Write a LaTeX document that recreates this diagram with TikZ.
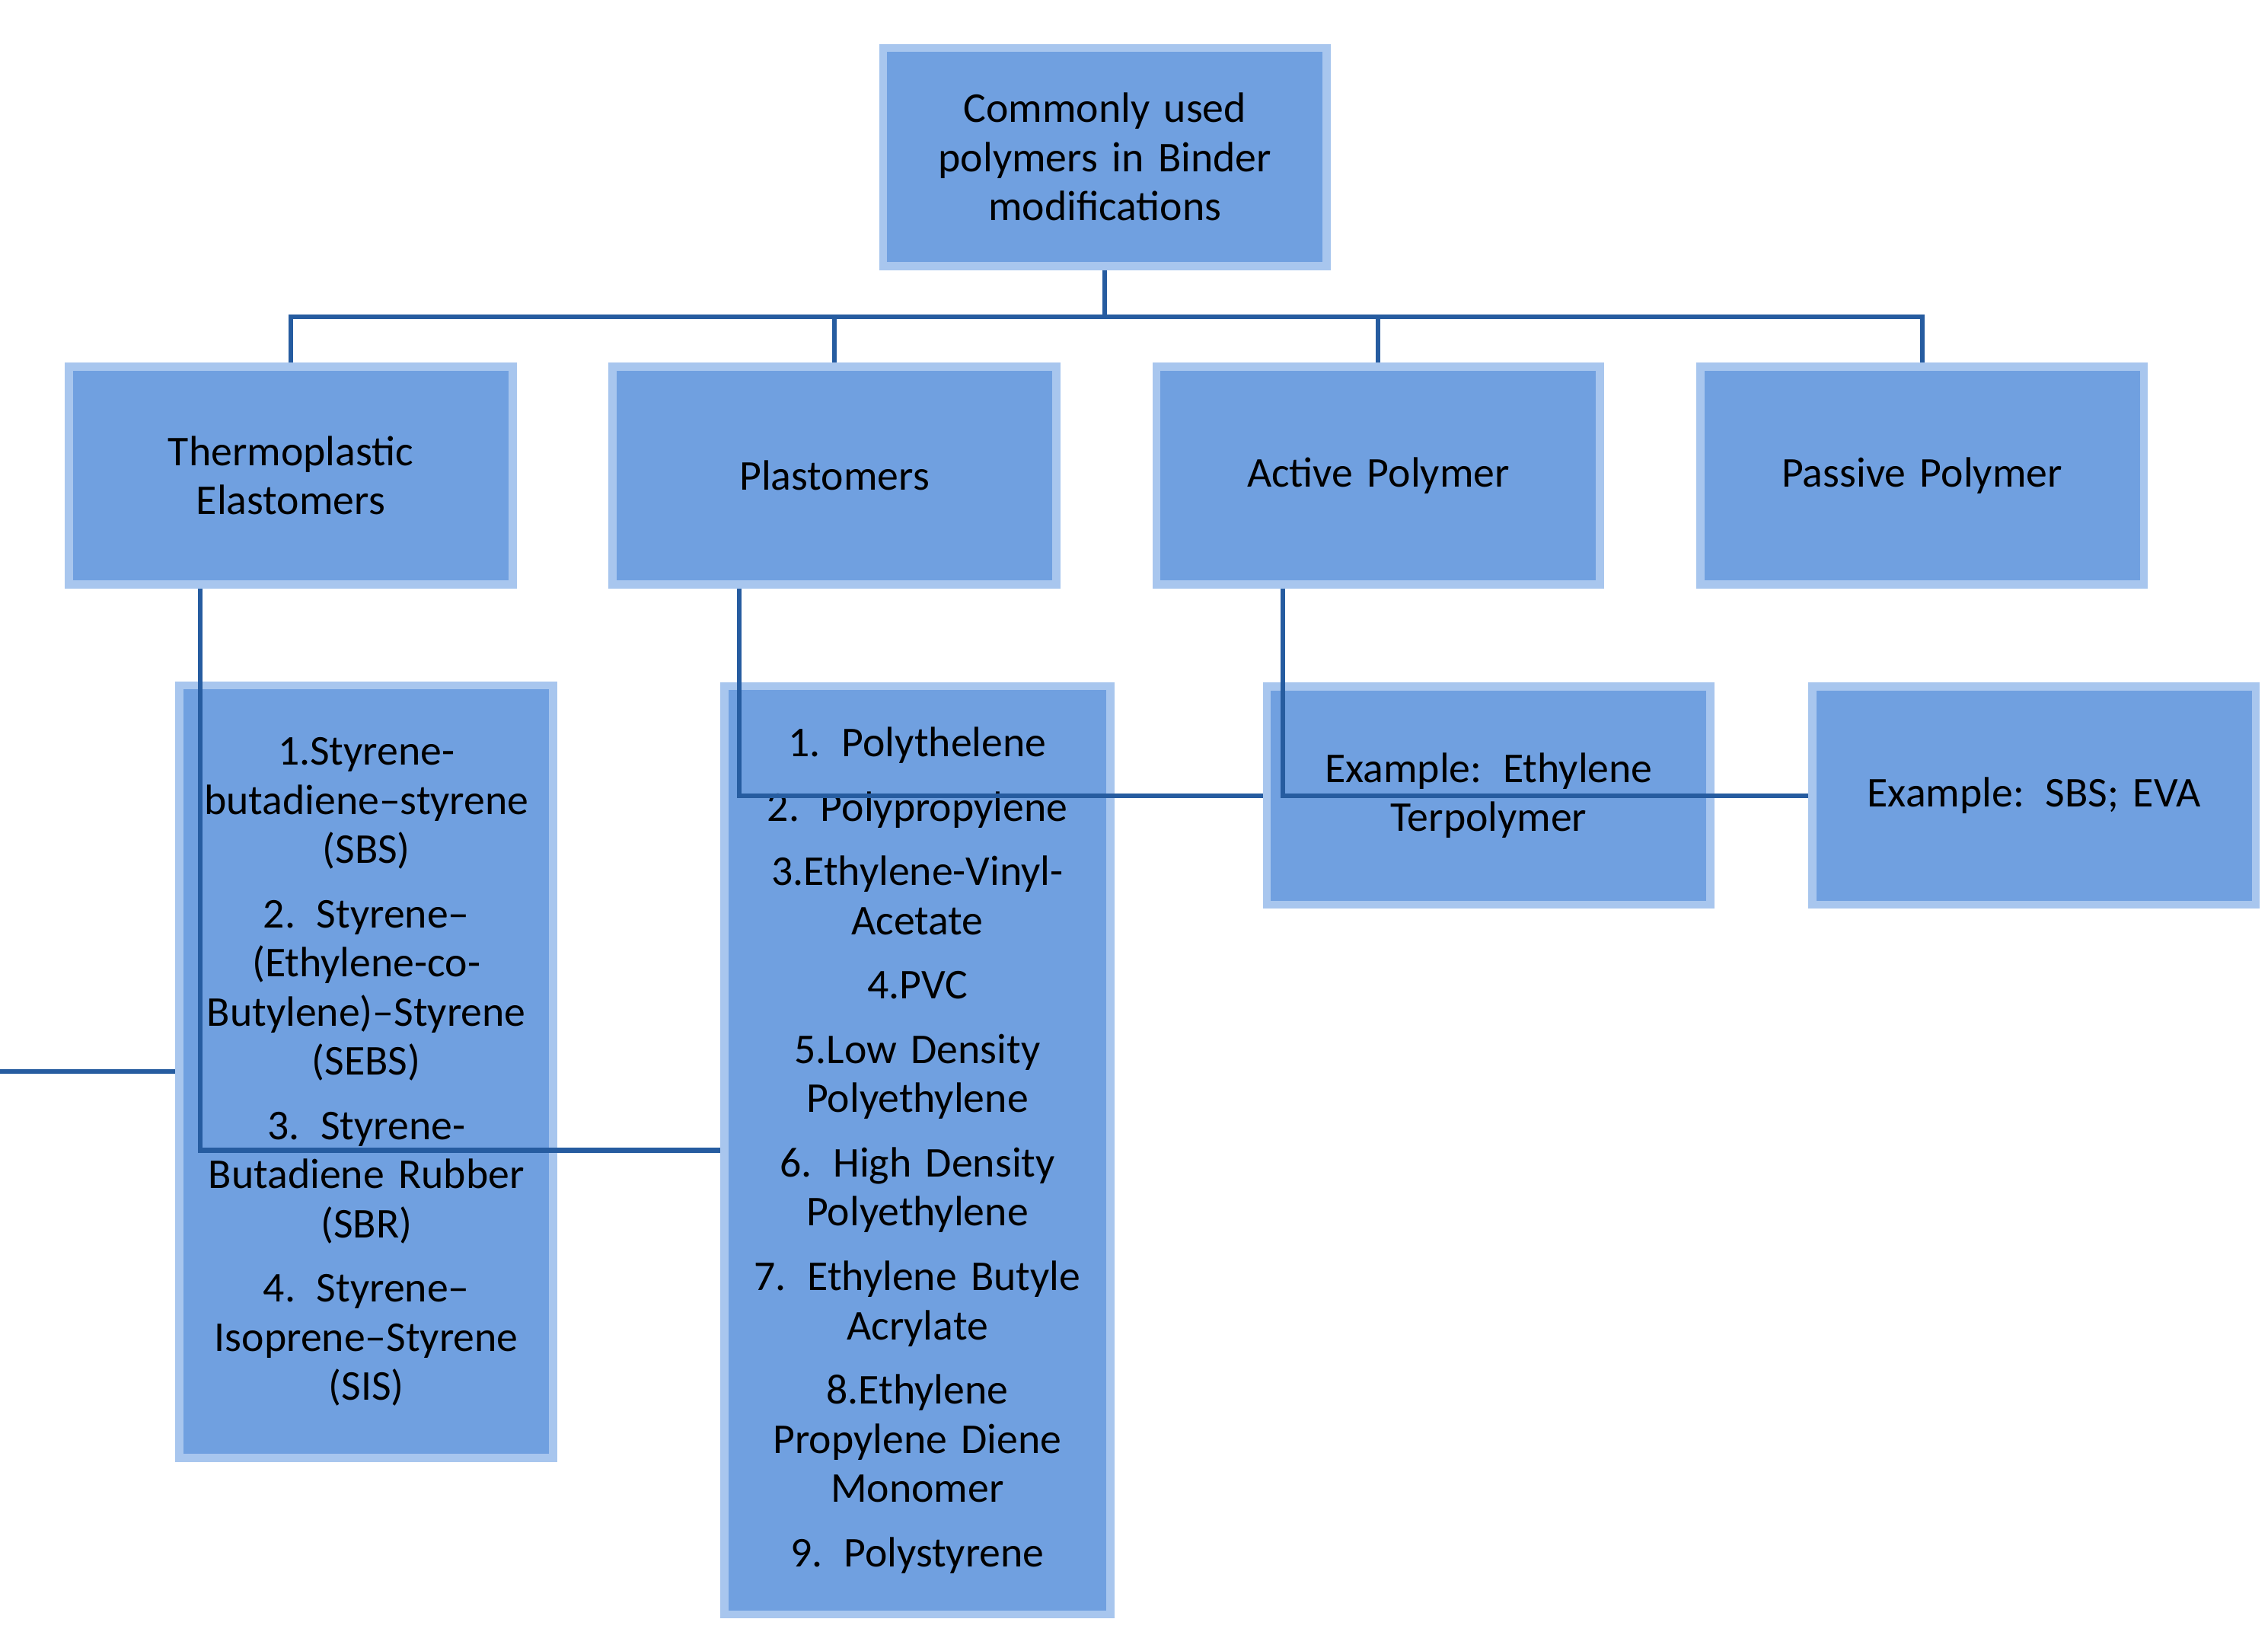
\documentclass[tikz,border=0pt]{standalone}
\usepackage{fontspec}
\setmainfont{Carlito}
\usetikzlibrary{positioning}
\definecolor{boxblue}{RGB}{112,160,224}
\definecolor{edgeblue}{RGB}{168,198,238}
\definecolor{linkblue}{RGB}{38,92,160}

\begin{document}
\begin{tikzpicture}[x=0.01cm,y=-0.01cm,
	box/.style={rectangle, draw=edgeblue, line width=1.6pt, fill=boxblue,
		inner sep=0pt, text centered, align=center, text width=2.7cm,
		font=\fontsize{8.3}{9.6}\selectfont, minimum width=3.05cm, minimum height=1.5cm},
	link/.style={draw=linkblue, line width=0.9pt}
	]
	\useasboundingbox (0,0) rectangle (1560,1124);
	\node (root) [box] at (760,108) {Commonly used\\polymers in Binder\\modifications};
	\node (te) [box] at (200,327) {Thermoplastic\\Elastomers};
	\node (plast) [box] at (574,327) {Plastomers};
	\node (active) [box] at (948,327) {Active Polymer};
	\node (passive) [box] at (1322,327) {Passive Polymer};
	\node (telist) [box, minimum width=2.57cm, minimum height=5.31cm, text width=2.4cm] at (252,737)
		{1.Styrene-\\butadiene--styrene\\(SBS)\\[3pt]
		2. Styrene--\\(Ethylene-co-\\Butylene)--Styrene\\(SEBS)\\[3pt]
		3. Styrene-\\Butadiene Rubber\\(SBR)\\[3pt]
		4. Styrene--\\Isoprene--Styrene\\(SIS)};
	\node (plastlist) [box, minimum width=2.65cm, minimum height=6.38cm, text width=2.5cm] at (631,791)
		{1. Polythelene\\[3pt]
		2. Polypropylene\\[3pt]
		3.Ethylene-Vinyl-\\Acetate\\[3pt]
		4.PVC\\[3pt]
		5.Low Density\\Polyethylene\\[3pt]
		6. High Density\\Polyethylene\\[3pt]
		7. Ethylene Butyle\\Acrylate\\[3pt]
		8.Ethylene\\Propylene Diene\\Monomer\\[3pt]
		9. Polystyrene};
	\node (activeex) [box] at (1024,547) {Example: Ethylene\\Terpolymer};
	\node (passiveex) [box] at (1399,547) {Example: SBS; EVA};

	% bus from the root to the four groups
	\coordinate (bus) at (760,218);
	\draw[link] (root.south) -- (bus);
	\draw[link] (te.north) |- (bus) -| (passive.north);
	\draw[link] (plast.north) -- (plast.north |- bus);
	\draw[link] (active.north) -- (active.north |- bus);

	% group to its examples
	\draw[link] ([xshift=-124]te.south) |- (telist.west);
	\draw[link] ([xshift=-124]plast.south) |- (plastlist.west);
	\draw[link] ([xshift=-125]active.south) |- (activeex.west);
	\draw[link] ([xshift=-125]passive.south) |- (passiveex.west);
\end{tikzpicture}
\end{document}
